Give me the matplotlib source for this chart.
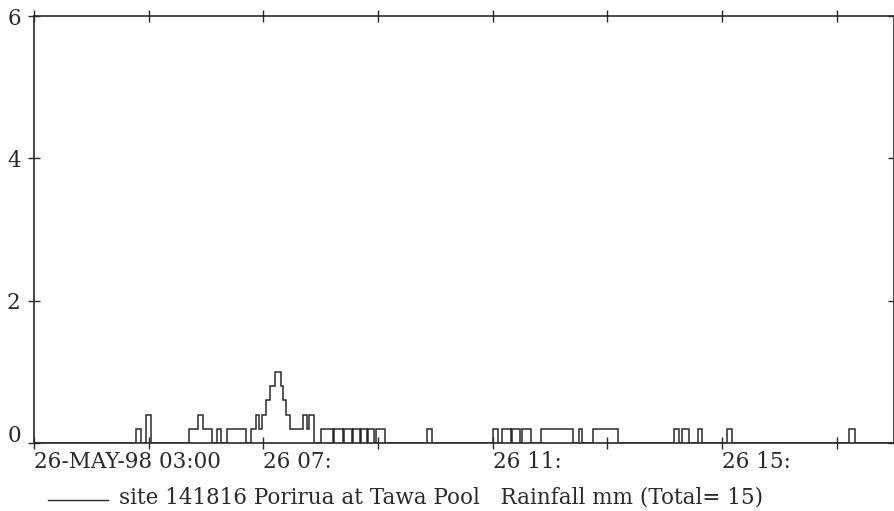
import matplotlib
matplotlib.use("Agg")
import matplotlib.pyplot as plt
import matplotlib.transforms as mtransforms
from matplotlib.lines import Line2D

# Rainfall steps: edges in minutes after 26-MAY-98 03:00, values in mm
edges = [0, 107, 112, 117, 122, 162, 172, 177, 186, 191, 196, 202, 222,
         227.5, 232, 235.5, 239, 243, 247, 252.5, 258, 261, 263.5, 267.5,
         281, 285.5, 288, 293.5, 300.5, 312.5, 314, 323, 324.5, 332.5, 334,
         341, 342.5, 348.5, 350, 356, 357.5, 367, 411, 416, 480, 486, 490,
         499, 500.5, 508.5, 511, 520, 531, 564, 570, 574, 584.5, 611, 670,
         675, 678, 685, 694.5, 699.5, 725, 730, 853, 859, 900]
rain = [0, 0.2, 0, 0.4, 0, 0.2, 0.4, 0.2, 0, 0.2, 0, 0.2, 0,
        0.2, 0.4, 0.2, 0.4, 0.6, 0.8, 1.0, 0.8, 0.6, 0.4, 0.2,
        0.4, 0.2, 0.4, 0, 0.2, 0, 0.2, 0, 0.2, 0, 0.2,
        0, 0.2, 0, 0.2, 0, 0.2, 0, 0.2, 0, 0.2, 0, 0.2,
        0, 0.2, 0, 0.2, 0, 0.2, 0, 0.2, 0, 0.2, 0, 0.2,
        0, 0.2, 0, 0.2, 0, 0.2, 0, 0.2, 0]

xtick_pos = [0, 120, 240, 360, 480, 600, 720, 840]
xtick_labels = ["26-MAY-98 03:00", "", "26 07:", "", "26 11:", "", "26 15:", ""]
ytick_pos = [0, 2, 4, 6]
ytick_labels = ["0", "2", "4", "6"]
legend_label = "site 141816 Porirua at Tawa Pool   Rainfall mm (Total= 15)"

FONT = "DejaVu Serif"
FS = 15.5
INK = "#2a2a2a"

fig = plt.figure(figsize=(8.95, 5.11), dpi=100)
ax = fig.add_axes([34 / 895, 1 - 443 / 511, 860 / 895, 427 / 511])

ax.stairs(rain, edges, baseline=0, color=INK, linewidth=1.1)

ax.set_xlim(0, 900)
ax.set_ylim(0, 6)

for s in ax.spines.values():
    s.set_color(INK)
    s.set_linewidth(1.2)

ax.set_xticks(xtick_pos)
ax.set_xticklabels(xtick_labels, fontfamily=FONT, fontsize=FS, color=INK, ha="left")
ax.set_yticks(ytick_pos)
ax.set_yticklabels(ytick_labels, fontfamily=FONT, fontsize=FS, color=INK)

ax.tick_params(axis="x", which="both", direction="inout", length=9, width=1,
               color=INK, top=True, bottom=True, pad=1)
ax.tick_params(axis="y", which="both", direction="inout", length=9, width=1,
               color=INK, left=True, right=True, pad=5)

# nudge the "0" label up slightly, as in the reference
lbl0 = ax.get_yticklabels()[0]
lbl0.set_transform(lbl0.get_transform() +
                   mtransforms.ScaledTranslation(0, 10 / 100, fig.dpi_scale_trans))

# legend line and text below the axes
fig.add_artist(Line2D([48 / 895, 108 / 895], [1 - 500 / 511, 1 - 500 / 511],
                      transform=fig.transFigure, color=INK, linewidth=1.0))
fig.text(119 / 895, 1 - 497 / 511, legend_label, fontfamily=FONT, fontsize=FS,
         color=INK, ha="left", va="center")

fig.savefig("out.png", dpi=100, facecolor="white")
